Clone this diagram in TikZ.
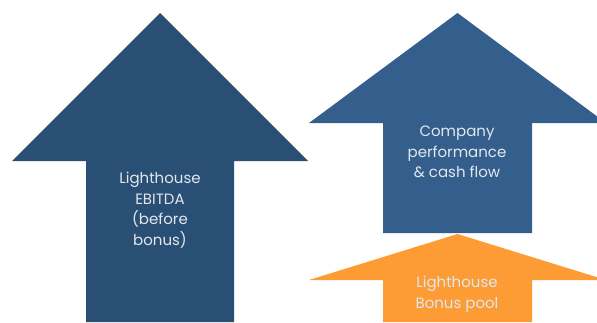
\documentclass[tikz,border=0pt]{standalone}
\usepackage{fontspec}
\setmainfont{Poppins}
\usetikzlibrary{positioning}

\definecolor{darkblue}{HTML}{2A4F74}
\definecolor{midblue}{HTML}{345F8C}
\definecolor{bonusorange}{HTML}{FD9B35}
\definecolor{labelgrey}{HTML}{E2E7EE}

\begin{document}
\begin{tikzpicture}[x=1pt, y=1pt,
        arrowlabel/.style={text=labelgrey, align=center, font=\fontsize{15}{20.5}\selectfont, inner sep=0pt}]
    \useasboundingbox (0,0) rectangle (597,322);
    \clip (0,0) rectangle (597,322);
    % big arrow on the left
    \fill[darkblue] (86,0) -- (86,161) -- (12,161) -- (160,309) -- (308,161) -- (234,161) -- (234,0) -- cycle;
    % company arrow
    \fill[midblue] (383,89) -- (383,199) -- (309,199) -- (457.5,309) -- (606,199) -- (532,199) -- (532,89) -- cycle;
    % bonus pool arrow
    \fill[bonusorange] (383,0) -- (383,42) -- (309,42) -- (457.5,88) -- (606,42) -- (532,42) -- (532,0) -- cycle;

    \node[arrowlabel] (ebitda) at (160,112) {Lighthouse\\EBITDA\\(before\\bonus)};
    \node[arrowlabel] (company) at (457,170) {Company\\performance\\\& cash flow};
    \node[arrowlabel] (bonus) at (457,28) {Lighthouse\\Bonus pool};
\end{tikzpicture}
\end{document}
